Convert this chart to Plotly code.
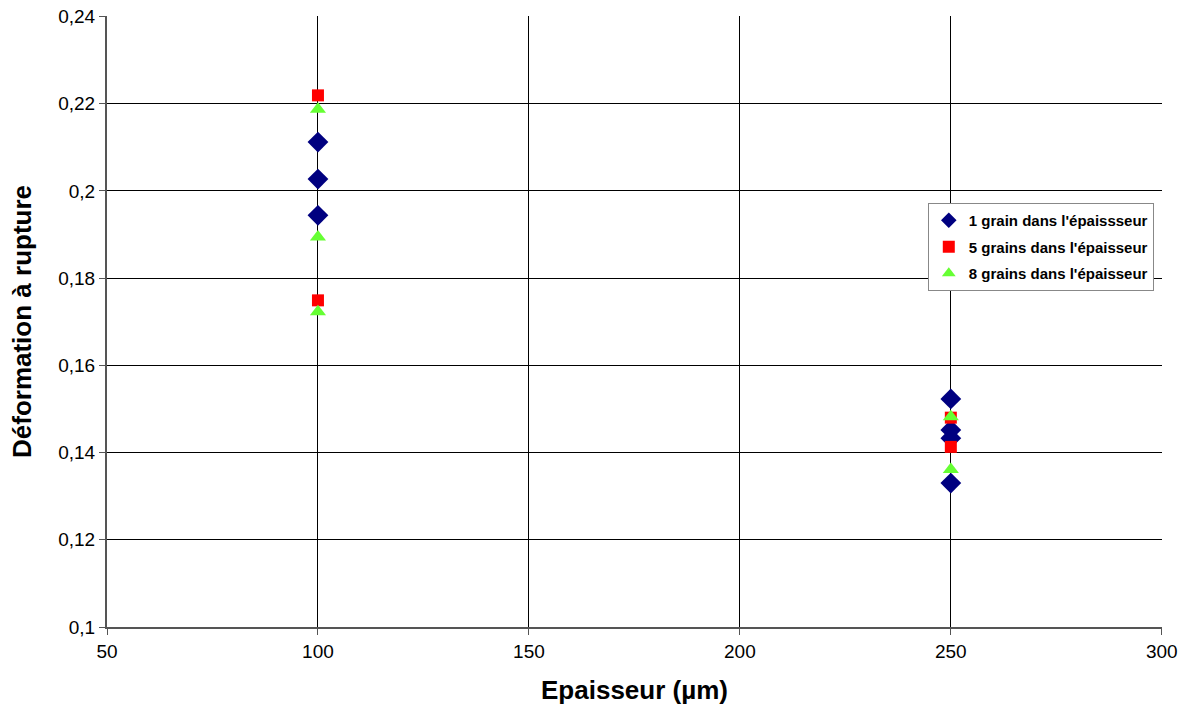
import plotly.graph_objects as go

x_1grain = [100, 100, 100, 250, 250, 250, 250]
y_1grain = [0.2112, 0.2027, 0.1944, 0.1523, 0.1452, 0.1433, 0.1330]
x_5grains = [100, 100, 250, 250]
y_5grains = [0.2219, 0.1749, 0.1480, 0.1413]
x_8grains = [100, 100, 100, 250, 250]
y_8grains = [0.2187, 0.1894, 0.1723, 0.1482, 0.1361]

names = ["1 grain dans l'épaissseur", "5 grains dans l'épaisseur", "8 grains dans l'épaisseur"]
y_ticks = [0.1, 0.12, 0.14, 0.16, 0.18, 0.2, 0.22, 0.24]
y_ticklabels = ["0,1", "0,12", "0,14", "0,16", "0,18", "0,2", "0,22", "0,24"]

FONT = "Liberation Sans, Arial, sans-serif"

fig = go.Figure()
fig.add_trace(go.Scatter(x=x_1grain, y=y_1grain, mode="markers", name="<b>" + names[0] + "</b>",
                         legendgroup="a",
                         marker=dict(symbol="diamond", size=16, color="#000080")))
fig.add_trace(go.Scatter(x=x_5grains, y=y_5grains, mode="markers", name="<b>" + names[1] + "</b>",
                         legendgroup="b",
                         marker=dict(symbol="square", size=12, color="#FF0000")))
fig.add_trace(go.Scatter(x=x_8grains, y=y_8grains, mode="markers", name="<b>" + names[2] + "</b>",
                         legendgroup="c",
                         marker=dict(symbol="triangle-up", size=14, color="#66FF33")))

axis_font = dict(family=FONT, size=19, color="black")
fig.update_layout(
    width=1189, height=707,
    margin=dict(l=107, r=27, t=16, b=80, autoexpand=False),
    paper_bgcolor="white", plot_bgcolor="white",
    font=dict(family=FONT, color="black"),
    xaxis=dict(range=[50, 300.05], dtick=50, tick0=50, showgrid=True, gridcolor="black", gridwidth=1,
               showline=True, linecolor="#555555", linewidth=2, mirror=False,
               ticks="outside", ticklen=6, tickcolor="#555555", tickfont=axis_font,
               zeroline=False, automargin=False,
               title=dict(text="<b>Epaisseur (µm)</b>", font=dict(size=26, family=FONT), standoff=20)),
    yaxis=dict(range=[0.1, 0.2401], tickmode="array", tickvals=y_ticks, ticktext=y_ticklabels,
               showgrid=True, gridcolor="black", gridwidth=1,
               showline=True, linecolor="#555555", linewidth=2,
               ticks="outside", ticklen=6, tickcolor="#555555", tickfont=axis_font,
               zeroline=False, automargin=False,
               title=dict(text="<b>Déformation à rupture</b>", font=dict(size=26, family=FONT), standoff=19)),
    legend=dict(x=0.778, y=0.694, xanchor="left", yanchor="top",
                bgcolor="white", bordercolor="#888888", borderwidth=1,
                font=dict(size=15, family=FONT, color="black"),
                itemsizing="constant", tracegroupgap=4, itemwidth=30),
    showlegend=True,
)

fig.write_html("out.html", config={"displayModeBar": False},
               post_script="document.body.style.margin='0px';")
